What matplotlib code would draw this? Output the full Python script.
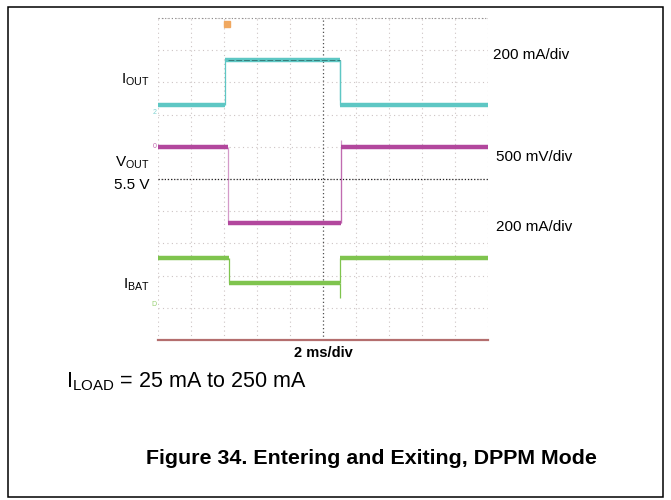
"""
Scope capture: entering and exiting DPPM mode (IOUT, VOUT, IBAT traces).
"""

import matplotlib

matplotlib.use("Agg")
import matplotlib.pyplot as plt
from matplotlib.patches import Rectangle

plt.rcParams["font.family"] = ["Liberation Sans", "DejaVu Sans"]

W, H = 671, 500

# ── trace data (scope divisions: x 0..10 = 2 ms/div, y 0..10) ────────────
iout_edges = [0.0, 2.03, 5.52, 10.0]
iout_levels = [7.30, 8.70, 7.30]
iout_exit_peak = 7.45

vout_edges = [0.0, 2.12, 5.55, 10.0]
vout_levels = [6.00, 3.63, 6.00]
vout_exit_peak = 6.20

ibat_edges = [0.0, 2.15, 5.52, 10.0]
ibat_levels = [2.55, 1.77, 2.55]
ibat_exit_peak = 1.30

vout_ref = 5.0  # 5.5 V reference (black dotted)

# channel ground markers at the left edge: (label, level)
ch_markers = [("2", 7.05), ("0", 6.00), ("D", 1.09)]

# ── palette ──────────────────────────────────────────────────────────────
CYAN = "#5ec7c4"
MAGENTA = "#b2479d"
GREEN = "#7fc44e"
GRID = "#cdc4c4"
CENTER = "#4f4f4f"
BOTTOM = "#b46e6e"


def px(x, y):
    """Pixel position -> figure fraction."""
    return x / W, 1 - y / H


def draw_trace(ax, edges, levels, peak, color, edge_alpha=1.0):
    ax.hlines(levels, edges[:-1], edges[1:], color=color, lw=3.2, zorder=4)
    for i in range(1, len(edges) - 1):
        ax.vlines(edges[i], levels[i - 1], levels[i], color=color, lw=0.9,
                  alpha=edge_alpha, zorder=4)
    # transient at the exit edge
    ax.vlines(edges[2], levels[1], peak, color=color, lw=0.9,
              alpha=edge_alpha, zorder=4)


fig = plt.figure(figsize=(W / 100, H / 100), dpi=100)
fig.patches.append(
    Rectangle((8 / W, 1 - 497 / H), 655 / W, 490 / H, transform=fig.transFigure,
              fill=False, edgecolor="black", lw=1.1)
)

ax = fig.add_axes([158 / W, 1 - 340 / H, 330 / W, 322 / H])
ax.set_xlim(0, 10)
ax.set_ylim(0, 10)
for s in ax.spines.values():
    s.set_visible(False)
ax.set_xticks([])
ax.set_yticks([])

# graticule
for k in range(11):
    if k != 5:
        ax.axvline(k, color=GRID, lw=0.8, ls=(0, (1, 3)), zorder=1)
    ax.axhline(k, color=GRID, lw=0.8, ls=(0, (1, 3)), zorder=1)
ax.axvline(5, color=CENTER, lw=0.9, ls=(0, (1, 2)), zorder=2)
ax.axhline(vout_ref, color="#222222", lw=0.9, ls=(0, (1, 1.5)), zorder=2)
ax.axhline(0, color=BOTTOM, lw=1.6, zorder=3, clip_on=False)
ax.axhline(10, color="#8a8a8a", lw=0.8, ls=(0, (1, 2)), zorder=2, clip_on=False)

draw_trace(ax, iout_edges, iout_levels, iout_exit_peak, CYAN)
draw_trace(ax, vout_edges, vout_levels, vout_exit_peak, MAGENTA, edge_alpha=0.55)
draw_trace(ax, ibat_edges, ibat_levels, ibat_exit_peak, GREEN)

# darker noise line riding on the high IOUT segment
ax.hlines(iout_levels[1], iout_edges[1] + 0.1, iout_edges[2], color="#2d6b67",
          lw=0.7, ls=(0, (6, 2)), alpha=0.8, zorder=5)

# channel markers and trigger marker
marker_colors = [CYAN, MAGENTA, GREEN]
for (lbl, lvl), c in zip(ch_markers, marker_colors):
    ax.text(-0.05, lvl, lbl, color=c, fontsize=5, ha="right", va="center",
            alpha=0.8)
ax.plot([iout_edges[1] + 0.05], [9.8], marker="s", ms=4, color="#f0a860",
        clip_on=False, zorder=5)

# ── labels ───────────────────────────────────────────────────────────────
lab = dict(fontsize=11, ha="right", va="center")
fig.text(*px(150, 80), r"$\mathregular{I_{OUT}}$", **lab)
fig.text(*px(150, 163), r"$\mathregular{V_{OUT}}$", **lab)
fig.text(*px(150, 185), "5.5 V", **lab)
fig.text(*px(150, 285), r"$\mathregular{I_{BAT}}$", **lab)

div = dict(fontsize=11, ha="left", va="center")
fig.text(*px(493, 55), "200 mA/div", **div)
fig.text(*px(496, 157), "500 mV/div", **div)
fig.text(*px(496, 227), "200 mA/div", **div)

fig.text(*px(323, 353), "2 ms/div", fontsize=10.5, fontweight="bold",
         ha="center", va="center")
fig.text(*px(66, 382), r"$\mathregular{I_{LOAD}}$ = 25 mA to 250 mA",
         fontsize=15.5, ha="left", va="center")
fig.text(*px(371, 458), "Figure 34. Entering and Exiting, DPPM Mode",
         fontsize=15.4, fontweight="bold", ha="center", va="center")

fig.savefig("out.png", dpi=100)
